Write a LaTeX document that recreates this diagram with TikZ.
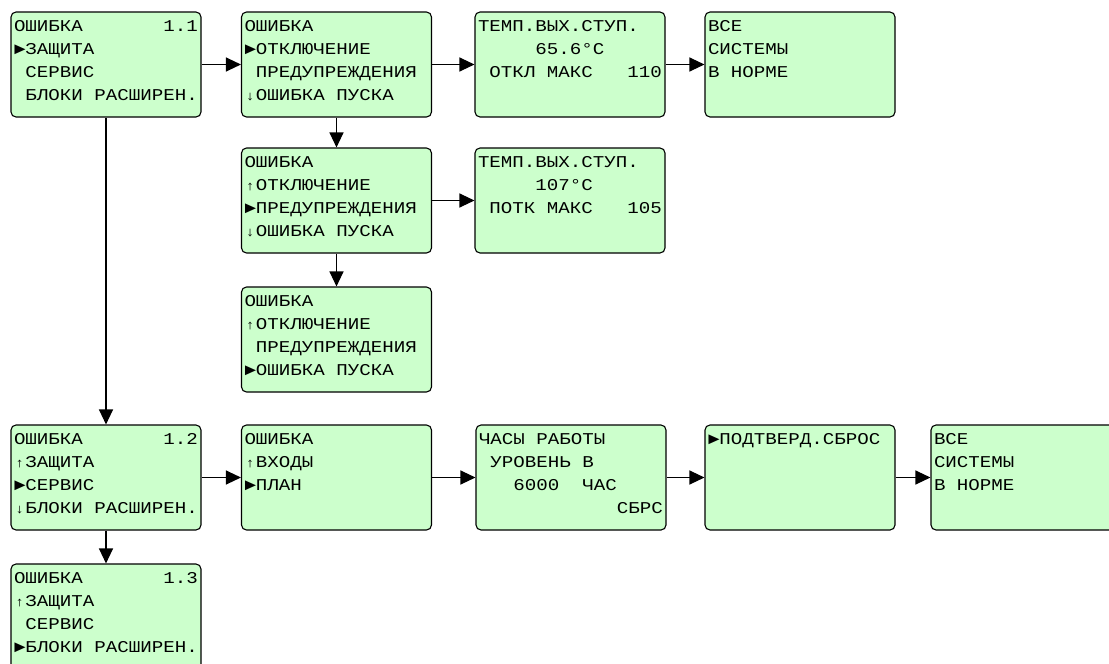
\documentclass[tikz,border=0pt]{standalone}
\usepackage{fontspec}
\usetikzlibrary{arrows.meta}

\newfontfamily\lcdfont[FakeStretch=1.16]{Liberation Mono}
\definecolor{lcdgreen}{RGB}{204,255,204}

\newcommand\lcdup{\makebox[11.48pt]{\fontsize{13}{13}\selectfont ↑}}
\newcommand\lcddown{\makebox[11.48pt]{\fontsize{13}{13}\selectfont ↓}}
\newcommand\lcdtext[1]{\parbox[c][99pt][t]{184pt}{\fontsize{16.5}{23}\lcdfont\strut#1}}

\tikzstyle{screen}=[draw=black,fill=lcdgreen,rounded corners=5pt,line width=1.1pt,inner sep=3pt]
\tikzstyle{link}=[draw=black,line width=1.2pt,-{Triangle[length=15pt,width=14pt]}]

\begin{document}
\begin{tikzpicture}[x=1pt,y=-1pt]

   \useasboundingbox (0,0) rectangle (1109,664);
   \clip (0,0) rectangle (1109,664);

   % Protection menu

   \node[screen] (m11) at (106,64.5) {\lcdtext{ОШИБКА~~~~~~~1.1\\►ЗАЩИТА\\\hphantom{0}СЕРВИС\\\hphantom{0}БЛОКИ РАСШИРЕН.}};

   \node[screen] (p0) at (336.5,64.5) {\lcdtext{ОШИБКА\\►ОТКЛЮЧЕНИЕ\\\hphantom{0}ПРЕДУПРЕЖДЕНИЯ\\\lcddown ОШИБКА ПУСКА}};
   \node[screen] (t0) at (570,64.5) {\lcdtext{ТЕМП.ВЫХ.СТУП.\\\hphantom{00000}65.6°C\\\hphantom{0}ОТКЛ МАКС~~~110}};
   \node[screen] (ok0) at (800,64.5) {\lcdtext{ВСЕ\\СИСТЕМЫ\\В НОРМЕ}};

   \node[screen] (p1) at (336.5,200.5) {\lcdtext{ОШИБКА\\\lcdup ОТКЛЮЧЕНИЕ\\►ПРЕДУПРЕЖДЕНИЯ\\\lcddown ОШИБКА ПУСКА}};
   \node[screen] (t1) at (570,200.5) {\lcdtext{ТЕМП.ВЫХ.СТУП.\\\hphantom{00000}107°C\\\hphantom{0}ПОТК МАКС~~~105}};

   \node[screen] (p2) at (336.5,339.5) {\lcdtext{ОШИБКА\\\lcdup ОТКЛЮЧЕНИЕ\\\hphantom{0}ПРЕДУПРЕЖДЕНИЯ\\►ОШИБКА ПУСКА}};

   % Service menu

   \node[screen] (m12) at (106,477.5) {\lcdtext{ОШИБКА~~~~~~~1.2\\\lcdup ЗАЩИТА\\►СЕРВИС\\\lcddown БЛОКИ РАСШИРЕН.}};

   \node[screen] (s0) at (336.5,477.5) {\lcdtext{ОШИБКА\\\lcdup ВХОДЫ\\►ПЛАН}};
   \node[screen] (s1) at (571,477.5) {\lcdtext{ЧАСЫ РАБОТЫ\\\hphantom{0}УРОВЕНЬ В\\\hphantom{000}6000~~ЧАС\\\hphantom{000000000000}СБРС}};
   \node[screen] (s2) at (800,477.5) {\lcdtext{►ПОДТВЕРД.СБРОС}};
   \node[screen] (ok1) at (1026,477.5) {\lcdtext{ВСЕ\\СИСТЕМЫ\\В НОРМЕ}};

   % Extension menu

   \node[screen] (m13) at (106,616.5) {\lcdtext{ОШИБКА~~~~~~~1.3\\\lcdup ЗАЩИТА\\\hphantom{0}СЕРВИС\\►БЛОКИ РАСШИРЕН.}};

   \draw[link] (m11) -- (p0);
   \draw[link] (p0) -- (t0);
   \draw[link] (t0) -- (ok0);
   \draw[link] (p0) -- (p1);
   \draw[link] (p1) -- (t1);
   \draw[link] (p1) -- (p2);
   \draw[link] (m11) -- (m12);
   \draw[link] (m12) -- (s0);
   \draw[link] (s0) -- (s1);
   \draw[link] (s1) -- (s2);
   \draw[link] (s2) -- (ok1);
   \draw[link] (m12) -- (m13);

\end{tikzpicture}
\end{document}
